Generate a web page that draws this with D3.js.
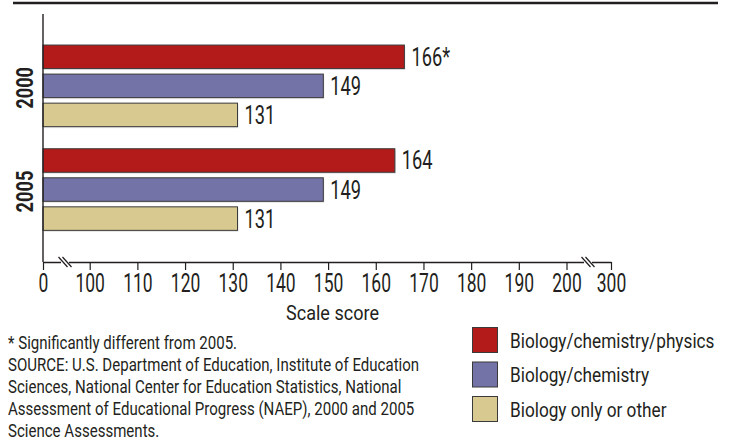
<!DOCTYPE html>
<html>
<head>
<meta charset="utf-8">
<script src="https://cdn.jsdelivr.net/npm/d3@7"></script>
<style>
  html, body { margin: 0; padding: 0; background: #fff; }
  svg { display: block; }
  text { font-family: Roboto, "Noto Sans", sans-serif; fill: #231f20; }
</style>
</head>
<body>
<svg id="chart" width="730" height="444"></svg>
<script>
// Average science scale scores by highest science course taken
const years = ["2000", "2005"];
const series = ["Biology/chemistry/physics", "Biology/chemistry", "Biology only or other"];
const scores2000 = [166, 149, 131];
const scores2005 = [164, 149, 131];
const significant2000 = [true, false, false];
const significant2005 = [false, false, false];
const tickValues = [0, 100, 110, 120, 130, 140, 150, 160, 170, 180, 190, 200, 300];
const colors = ["#b31b1a", "#7373a7", "#d7c98f"];

const footnotes = [
  "* Significantly different from 2005.",
  "SOURCE: U.S. Department of Education, Institute of Education",
  "Sciences, National Center for Education Statistics, National",
  "Assessment of Educational Progress (NAEP), 2000 and 2005",
  "Science Assessments."
];

const rows = years.map((y, i) => ({
  year: y,
  values: series.map((s, j) => ({
    series: s,
    idx: j,
    value: (i === 0 ? scores2000 : scores2005)[j],
    sig: (i === 0 ? significant2000 : significant2005)[j]
  }))
}));

// squeeze glyphs horizontally for a condensed face: scale(k,1) with x compensated
function condense(sel, k) {
  sel.each(function () {
    const t = d3.select(this);
    const xv = +(t.attr("x") || 0);
    const tr = t.attr("transform") || "";
    t.attr("x", xv / k).attr("transform", `${tr} scale(${k},1)`.trim());
  });
}

const svg = d3.select("#chart");

// Broken axis: 0 sits left of the first break, 200–300 compressed past the second
const x = d3.scaleLinear()
  .domain([0, 100, 200, 300])
  .range([43, 89.7, 566.5, 611]);

const y0 = d3.scaleBand().domain(years).range([34, 241.4]).padding(0);
const y1 = d3.scaleBand().domain(d3.range(series.length))
  .range([0, y0.bandwidth()]).paddingInner(0.19).paddingOuter(0.38);

// top rule
svg.append("line")
  .attr("x1", 13).attr("x2", 718).attr("y1", 3).attr("y2", 3)
  .attr("stroke", "#231f20").attr("stroke-width", 2.6);

// bars
const groups = svg.selectAll("g.year").data(rows).join("g")
  .attr("class", "year")
  .attr("transform", d => `translate(0,${y0(d.year)})`);

groups.selectAll("rect.shadow").data(d => d.values).join("rect")
  .attr("class", "shadow")
  .attr("x", x(0) + 1)
  .attr("y", d => y1(d.idx) + 1.5)
  .attr("width", d => x(d.value) - x(0))
  .attr("height", y1.bandwidth())
  .attr("fill", "#e4e4e4");

groups.selectAll("rect.bar").data(d => d.values).join("rect")
  .attr("class", "bar")
  .attr("x", x(0))
  .attr("y", d => y1(d.idx))
  .attr("width", d => x(d.value) - x(0))
  .attr("height", y1.bandwidth())
  .attr("fill", d => colors[d.idx])
  .attr("stroke", "#3a3a3a")
  .attr("stroke-width", 1);

groups.selectAll("text.val").data(d => d.values).join("text")
  .attr("class", "val")
  .attr("x", d => x(d.value) + 7)
  .attr("y", d => y1(d.idx) + y1.bandwidth() / 2 + 9)
  .attr("font-size", 25)
  .text(d => d.value + (d.sig ? "*" : ""))
  .call(condense, 0.73);

// year labels
svg.selectAll("text.yr").data(years).join("text")
  .attr("class", "yr")
  .attr("transform", d => `translate(33,${y0(d) + y0.bandwidth() / 2 + 2}) rotate(-90)`)
  .attr("text-anchor", "middle")
  .attr("font-size", 24)
  .attr("font-weight", "bold")
  .text(d => d)
  .call(condense, 0.76);

// vertical axis line
svg.append("line")
  .attr("x1", x(0)).attr("x2", x(0)).attr("y1", 14).attr("y2", 262)
  .attr("stroke", "#231f20").attr("stroke-width", 1.4);

const xAxis = d3.axisBottom(x).tickValues(tickValues).tickSize(8).tickSizeOuter(0).tickPadding(2);
const ax = svg.append("g").attr("transform", "translate(0,262)").call(xAxis);
ax.select(".domain").attr("stroke", "#231f20").attr("stroke-width", 1.4);
ax.selectAll(".tick line").attr("stroke", "#231f20").attr("stroke-width", 1.2);
ax.selectAll(".tick text")
  .attr("font-size", 25).attr("font-family", null).attr("fill", "#231f20")
  .attr("dy", null).attr("y", 30)
  .call(condense, 0.70);

// axis break marks
const breaks = [65, 588];
breaks.forEach(bx => {
  svg.append("rect")
    .attr("x", bx - 4).attr("y", 259).attr("width", 8).attr("height", 6).attr("fill", "#fff");
  [-2, 2].forEach(off => {
    svg.append("line")
      .attr("x1", bx + off - 4.5).attr("y1", 257)
      .attr("x2", bx + off + 4.5).attr("y2", 267)
      .attr("stroke", "#231f20").attr("stroke-width", 1.2);
  });
});

svg.append("text")
  .attr("x", 332.5).attr("y", 320)
  .attr("text-anchor", "middle")
  .attr("font-size", 21)
  .text("Scale score")
  .call(condense, 0.86);

// footnotes
svg.selectAll("text.note").data(footnotes).join("text")
  .attr("class", "note")
  .attr("x", 8)
  .attr("y", (d, i) => 349 + i * 22)
  .attr("font-size", 17.5)
  .text(d => d)
  .call(condense, 0.86);

// legend
const legend = svg.append("g").attr("transform", "translate(472,327)");
const li = legend.selectAll("g").data(series).join("g")
  .attr("transform", (d, i) => `translate(0,${i * 34.5})`);
li.append("rect").attr("x", 0.5).attr("y", 0.5).attr("width", 25).attr("height", 25)
  .attr("fill", (d, i) => colors[i]).attr("stroke", "#3a3a3a");
li.append("text").attr("x", 38).attr("y", 21)
  .attr("font-size", 21).text(d => d)
  .call(condense, 0.82);
</script>
</body>
</html>
